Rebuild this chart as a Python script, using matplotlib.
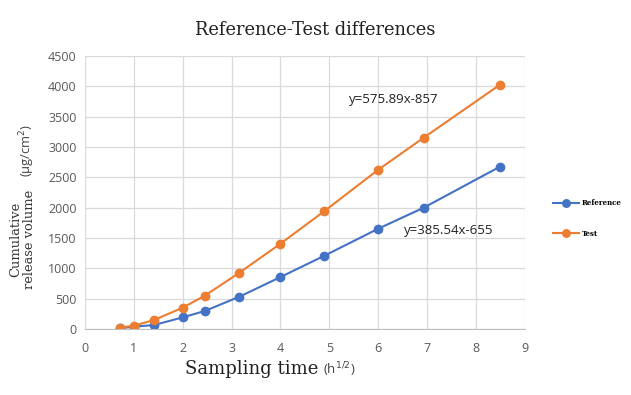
import numpy as np
import matplotlib
matplotlib.use("Agg")
import matplotlib.pyplot as plt

# sampling time in sqrt(h)
sample_times = [0.71, 1.0, 1.41, 2.0, 2.45, 3.16, 4.0, 4.90, 6.0, 6.93, 8.49]
reference_vals = [15, 38, 66, 192, 297, 533, 857, 1209, 1654, 2000, 2676]
test_vals = [22, 55, 148, 352, 549, 929, 1407, 1945, 2626, 3154, 4027]
series_names = ["Reference", "Test"]
eq_labels = ["y=385.54x-655", "y=575.89x-857"]

BLUE = "#4472C4"
ORANGE = "#ED7D31"
TICK_GRAY = "#595959"

fig = plt.figure(figsize=(6.31, 3.95), dpi=100)
ax = fig.add_axes([0.1347, 0.167, 0.697, 0.691])

ax.plot(sample_times, reference_vals, color=BLUE, marker="o", markersize=6,
        linewidth=1.5, label=series_names[0])
ax.plot(sample_times, test_vals, color=ORANGE, marker="o", markersize=6,
        linewidth=1.5, label=series_names[1])

ax.set_xlim(0, 9)
ax.set_ylim(0, 4500)
ax.set_xticks(range(0, 10))
ax.set_yticks(range(0, 4501, 500))
ax.grid(True, color="#d9d9d9", linewidth=0.9)
ax.set_axisbelow(True)
for side in ["top", "right", "left"]:
    ax.spines[side].set_visible(False)
ax.spines["bottom"].set_color("#bfbfbf")
ax.tick_params(length=0, labelsize=9, colors=TICK_GRAY, pad=6)
ax.tick_params(axis="x", pad=9)
for lbl in ax.get_xticklabels() + ax.get_yticklabels():
    lbl.set_fontfamily("Open Sans")

# trendline equations
ax.text(6.53, 1560, eq_labels[0], fontsize=9.5, family="Open Sans", color="#222222")
ax.text(5.4, 3720, eq_labels[1], fontsize=9.5, family="Open Sans", color="#222222")

fig.text(0.5, 0.925, "Reference-Test differences", ha="center", va="center",
         fontsize=12.8, family="DejaVu Serif", color="#222222")

fig.text(0.293, 0.052, "Sampling time", ha="left", va="baseline",
         fontsize=13, family="DejaVu Serif", color="#222222")
fig.text(0.512, 0.052, "(h$^{1/2}$)", ha="left", va="baseline",
         fontsize=9.5, family="Open Sans", color="#444444")

fig.text(0.036, 0.395, "Cumulative\nrelease volume", ha="center", va="center",
         rotation=90, fontsize=9.4, family="DejaVu Serif", color="#333333",
         linespacing=1.0)
fig.text(0.043, 0.618, "(μg/cm$^{2}$)", ha="center", va="center",
         rotation=90, fontsize=9.3, family="Open Sans", color="#444444")

leg = fig.legend(loc="upper left", bbox_to_anchor=(0.866, 0.512), frameon=False,
                 prop={"family": "DejaVu Serif", "size": 5, "weight": "bold"},
                 labelspacing=3.3, handlelength=3.8, handletextpad=0.4,
                 markerscale=0.9)

fig.savefig("out.png", dpi=100)
